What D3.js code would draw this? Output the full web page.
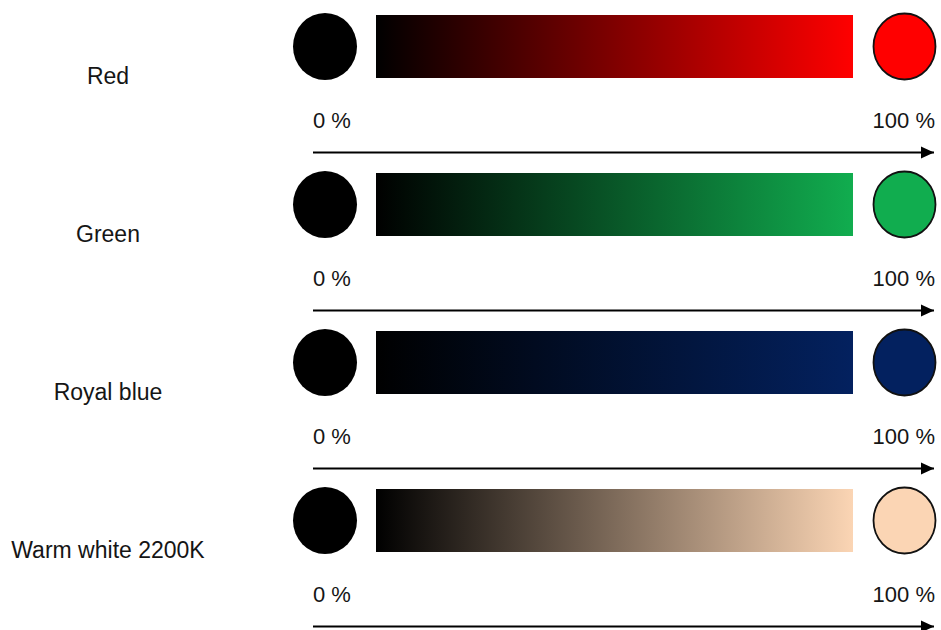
<!DOCTYPE html>
<html><head><meta charset="utf-8">
<script src="https://cdn.jsdelivr.net/npm/d3@7"></script>
<style>html,body{margin:0;padding:0;background:#fff;}svg{display:block;}</style>
</head><body>
<script>
const categories = ["Red", "Green", "Royal blue", "Warm white 2200K"];
const endColors = ["#ff0000", "#11ad4f", "#03215f", "#fbd5b4"];
const startColor = "#000000";
const levelTicks = [0, 100];
const tickLabels = ["0 %", "100 %"];

const W = 941, H = 630;
const svg = d3.select("body").append("svg").attr("width", W).attr("height", H);
const font = "Arial, 'Liberation Sans', sans-serif";

const rowY = d3.scalePoint().domain(categories).range([46.5, 520.5]);
const xPct = d3.scaleLinear().domain([0, 100]).range([376, 853]);
const xTick = d3.scaleLinear().domain([0, 100]).range([313, 935]);

const defs = svg.append("defs");
categories.forEach((c, i) => {
  const g = defs.append("linearGradient").attr("id", "grad" + i)
    .attr("x1", "0%").attr("x2", "100%").attr("y1", "0%").attr("y2", "0%");
  g.append("stop").attr("offset", "0%").attr("stop-color", startColor);
  g.append("stop").attr("offset", "100%").attr("stop-color", endColors[i]);
});
defs.append("marker").attr("id", "arrow").attr("viewBox", "0 0 12 12")
  .attr("refX", 12).attr("refY", 6).attr("markerWidth", 6.5).attr("markerHeight", 6.5)
  .attr("markerUnits", "strokeWidth").attr("orient", "auto")
  .append("path").attr("d", "M0,0.5 L12,6 L0,11.5 Z").attr("fill", "#000");

const rows = svg.selectAll("g.row").data(categories).join("g").attr("class", "row")
  .attr("transform", d => `translate(0,${rowY(d)})`);

rows.append("text").attr("x", 108).attr("y", 37).attr("text-anchor", "middle")
  .attr("font-family", font).attr("font-size", 23).attr("fill", "#151515").text(d => d);

rows.append("ellipse").attr("cx", 325).attr("cy", 0).attr("rx", 32).attr("ry", 33.5)
  .attr("fill", startColor);

rows.append("rect").attr("x", xPct(0)).attr("y", -31.5)
  .attr("width", xPct(100) - xPct(0)).attr("height", 63)
  .attr("fill", (d, i) => `url(#grad${i})`);

rows.append("ellipse").attr("cx", 904.5).attr("cy", 0).attr("rx", 31).attr("ry", 33)
  .attr("fill", (d, i) => endColors[i]).attr("stroke", "#111").attr("stroke-width", 1.8);

rows.each(function () {
  const g = d3.select(this);
  levelTicks.forEach((t, j) => {
    g.append("text").attr("x", xTick(t)).attr("y", 81)
      .attr("text-anchor", j === 0 ? "start" : "end")
      .attr("font-family", font).attr("font-size", 22).attr("fill", "#151515")
      .text(tickLabels[j]);
  });
  g.append("line").attr("x1", xTick(0)).attr("x2", xTick(100) - 1)
    .attr("y1", 106).attr("y2", 106).attr("stroke", "#000").attr("stroke-width", 2)
    .attr("marker-end", "url(#arrow)");
});
</script>
</body></html>
